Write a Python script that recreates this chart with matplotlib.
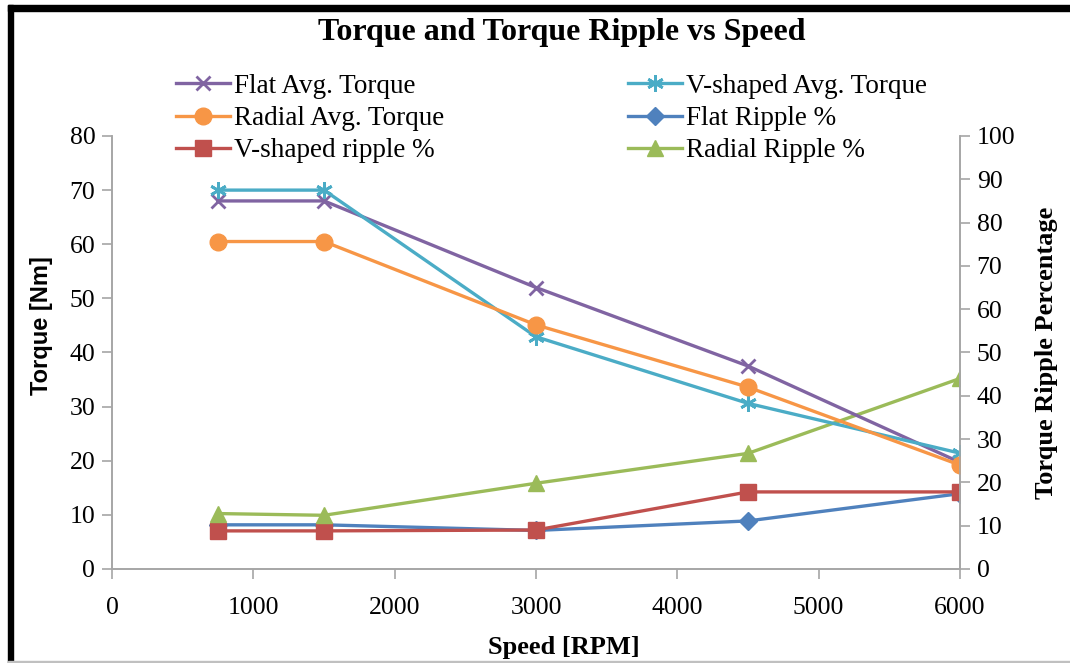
import matplotlib
matplotlib.use("Agg")
import matplotlib.pyplot as plt
from matplotlib.patches import Rectangle

# speeds (RPM)
speed = [750, 1500, 3000, 4500, 6000]

# average torque (Nm), left axis
flat_avg = [68, 68, 52, 37.5, 19.7]
vshape_avg = [70, 70, 42.9, 30.6, 21.4]
radial_avg = [60.5, 60.5, 45.1, 33.6, 19.2]

# torque ripple (%), right axis
flat_rip = [10.2, 10.2, 8.9, 11.1, 17.4]
vshape_rip = [8.8, 8.8, 9.0, 17.8, 17.8]
radial_rip = [12.8, 12.4, 19.8, 26.7, 44.0]

serif = "Liberation Serif"
sans = "Liberation Sans"
grey = "#a6a6a6"

fig = plt.figure(figsize=(10.7, 6.63), dpi=100)
ax = fig.add_axes([0.1047, 0.1418, 0.7925, 0.6531])
ax2 = ax.twinx()

l1, = ax.plot(speed, flat_avg, color="#8064A2", marker="x", ms=10, mew=2, lw=2.4)
l2, = ax.plot(speed, vshape_avg, color="#4BACC6", marker=(6, 2, 0), ms=12, mew=2, lw=2.4)
l3, = ax.plot(speed, radial_avg, color="#F79646", marker="o", ms=12, lw=2.4)
l4, = ax2.plot(speed, flat_rip, color="#4F81BD", marker="D", ms=9, lw=2.4)
l5, = ax2.plot(speed, vshape_rip, color="#C0504D", marker="s", ms=12, lw=2.4)
l6, = ax2.plot(speed, radial_rip, color="#9BBB59", marker="^", ms=12, lw=2.4)
ax2.set_zorder(ax.get_zorder() - 1)
ax.patch.set_visible(False)

ax.set_xlim(0, 6000)
ax.set_ylim(0, 80)
ax2.set_ylim(0, 100)
ax.set_xticks(range(0, 6001, 1000))
ax.set_yticks(range(0, 81, 10))
ax2.set_yticks(range(0, 101, 10))

for a in (ax, ax2):
    for s in a.spines.values():
        s.set_color(grey)
        s.set_linewidth(1.2)
    a.spines["top"].set_visible(False)
    a.tick_params(colors=grey, labelcolor="black", length=7, width=1.2,
                  labelsize=18.5, pad=5)
    for t in a.get_xticklabels() + a.get_yticklabels():
        t.set_fontfamily(serif)
ax.tick_params(axis="x", pad=13)

ax.set_xlabel("Speed [RPM]", fontfamily=serif, fontweight="bold", fontsize=19)
ax.xaxis.set_label_coords(0.533, -0.155)
ax.set_ylabel("Torque [Nm]", fontfamily=sans, fontweight="bold", fontsize=17)
ax.yaxis.set_label_coords(-0.07, 0.563)
ax2.set_ylabel("Torque Ripple Percentage", fontfamily=serif, fontweight="bold",
               fontsize=19, labelpad=14)

fig.text(0.525, 0.951, "Torque and Torque Ripple vs Speed", ha="center", va="center",
         fontfamily=serif, fontweight="bold", fontsize=23)

handles = [l1, l3, l5, l2, l4, l6]
labels = ["Flat Avg. Torque", "Radial Avg. Torque", "V-shaped ripple %",
          "V-shaped Avg. Torque", "Flat Ripple %", "Radial Ripple %"]
fig.legend(handles, labels, ncol=2, loc="upper left", bbox_to_anchor=(0.154, 0.905),
           frameon=False, prop={"family": serif, "size": 19.5}, handlelength=2.0,
           handletextpad=0.15, columnspacing=6.8, labelspacing=0.27, borderaxespad=0)

# chart border
fig.patches.append(Rectangle((0.0075, 0.983), 0.9925, 0.009, transform=fig.transFigure,
                             color="black", zorder=5))
fig.patches.append(Rectangle((0.0075, 0.0), 0.005, 0.992, transform=fig.transFigure,
                             color="black", zorder=5))
fig.patches.append(Rectangle((0.0075, 0.0), 0.9925, 0.003, transform=fig.transFigure,
                             color="#c0c0c0", zorder=5))

fig.savefig("out.png", dpi=100)
